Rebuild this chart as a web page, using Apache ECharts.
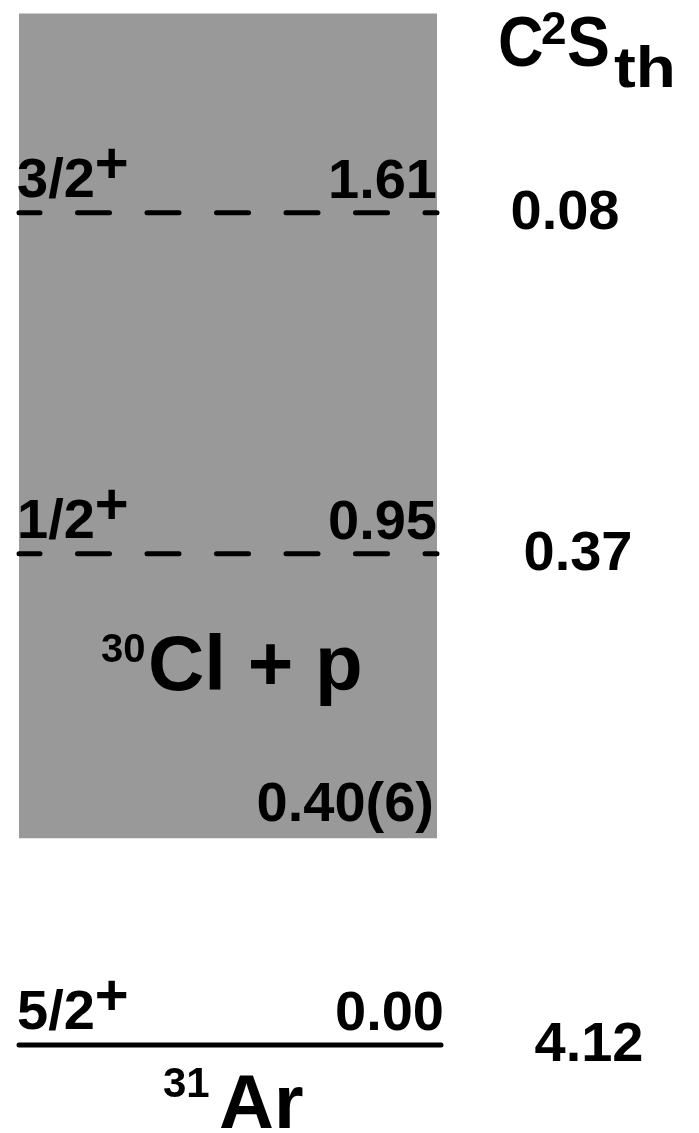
<!DOCTYPE html>
<html>
<head>
<meta charset="utf-8">
<script src="https://cdn.jsdelivr.net/npm/echarts@6/dist/echarts.min.js"></script>
<style>
  html, body { margin: 0; padding: 0; background: #ffffff; }
  #chart { width: 699px; height: 1133px; }
</style>
</head>
<body>
<div id="chart"></div>
<script>
// 31Ar level scheme: excitation energies (MeV), spins/parities and shell-model C2S
const levelEnergies = [0.00, 0.95, 1.61];
const levelSpins = ['5/2', '1/2', '3/2'];
const levelParities = ['+', '+', '+'];
const levelC2S = [4.12, 0.37, 0.08];

// 30Cl + p continuum, starting at the proton separation threshold
const protonThreshold = 0.40;
const protonThresholdLabel = '0.40(6)';
const continuumTop = 1.995;

const headerMain = ['C', 'S'];
const headerSup = '2';
const headerSub = 'th';
const channelMass = '30';
const channelName = 'Cl + p';
const nucleusMass = '31';
const nucleusName = 'Ar';

// ---- layout & styling ----
const FONT = '"Liberation Sans", Arial, Helvetica, sans-serif';
const LEVEL_LEFT = 19, LEVEL_RIGHT = 437, GROUND_RIGHT = 441;
const C2S_X = [589, 578, 565];          // centre of the C2S column entry for each level
const BOX_COLOR = '#999999';
const LABEL_SIZE = 56;

const measureCtx = document.createElement('canvas').getContext('2d');
function textWidth(str, size) {
  measureCtx.font = 'bold ' + size + 'px ' + FONT;
  return measureCtx.measureText(str).width;
}
// text anchored on the vertical centre of its capitals
function txt(str, x, y, size, align, scaleX) {
  const el = {
    type: 'text', x: x, y: y, z: 10, silent: true,
    style: {
      text: str, fill: '#000', font: 'bold ' + size + 'px ' + FONT,
      align: align || 'left', verticalAlign: 'middle'
    }
  };
  if (scaleX) { el.scaleX = scaleX; }
  return el;
}

const chart = echarts.init(document.getElementById('chart'), null, { renderer: 'canvas' });

chart.setOption({
  animation: false,
  backgroundColor: '#ffffff',
  grid: { left: 0, right: 0, top: 11, bottom: 88 },
  xAxis: { type: 'value', min: 0, max: 699, show: false },
  yAxis: { type: 'value', min: 0, max: 2.0, show: false },
  series: [
    {
      // shaded unbound region above the proton threshold
      type: 'custom',
      silent: true,
      z: 1,
      data: [[protonThreshold, continuumTop]],
      renderItem: function (params, api) {
        const p0 = api.coord([LEVEL_LEFT, api.value(1)]);
        const p1 = api.coord([LEVEL_RIGHT, api.value(0)]);
        return { type: 'rect', shape: { x: p0[0], y: p0[1], width: p1[0] - p0[0], height: p1[1] - p0[1] },
                 style: { fill: BOX_COLOR } };
      }
    },
    {
      // levels of 31Ar: solid when bound, dashed above the threshold
      type: 'custom',
      silent: true,
      z: 2,
      data: levelEnergies.map(function (e) { return [e]; }),
      renderItem: function (params, api) {
        const e = api.value(0);
        const bound = e < protonThreshold;
        const a = api.coord([LEVEL_LEFT, e]);
        const b = api.coord([bound ? GROUND_RIGHT : LEVEL_RIGHT, e]);
        return {
          type: 'line',
          shape: { x1: a[0], y1: a[1], x2: b[0], y2: b[1] },
          style: bound
            ? { stroke: '#000', lineWidth: 5, lineCap: 'round' }
            : { stroke: '#000', lineWidth: 5, lineCap: 'round', lineDash: [32, 37.5], lineDashOffset: 11 }
        };
      }
    }
  ]
});

// labels placed on the energy scale of the grid
function yOf(e) { return chart.convertToPixel({ gridIndex: 0 }, [0, e])[1]; }

const labels = [];
levelEnergies.forEach(function (e, i) {
  const y = yOf(e);
  const bound = e < protonThreshold;
  const right = bound ? GROUND_RIGHT + 3 : LEVEL_RIGHT;
  labels.push(txt(levelSpins[i], LEVEL_LEFT - 2, y - 31, LABEL_SIZE, 'left'));
  labels.push(txt(levelParities[i], LEVEL_LEFT - 2 + textWidth(levelSpins[i], LABEL_SIZE), y - 46, 58, 'left'));
  labels.push(txt(e.toFixed(2), right, y - 30, LABEL_SIZE, 'right'));
  labels.push(txt(levelC2S[i].toFixed(2), C2S_X[i], y + 1, LABEL_SIZE, 'center'));
});
labels.push(txt(protonThresholdLabel, LEVEL_RIGHT - 3, yOf(protonThreshold) - 33, LABEL_SIZE, 'right'));

// C^2 S_th column header
labels.push(txt(headerMain[0], 498, 47, 70, 'left', 0.9));
labels.push(txt(headerSup, 541, 31, 46, 'left'));
labels.push(txt(headerMain[1], 567, 47, 70, 'left', 0.92));
labels.push(txt(headerSub, 614, 71, 57, 'left', 1.15));
// 30Cl + p channel label
labels.push(txt(channelMass, 101, 651, 40, 'left'));
labels.push(txt(channelName, 148, 668, 78, 'left'));
// 31Ar nucleus label
labels.push(txt(nucleusMass, 163, 1085, 42, 'left'));
labels.push(txt(nucleusName, 219, 1107, 76, 'left'));

chart.setOption({ graphic: { elements: labels } });
</script>
</body>
</html>
